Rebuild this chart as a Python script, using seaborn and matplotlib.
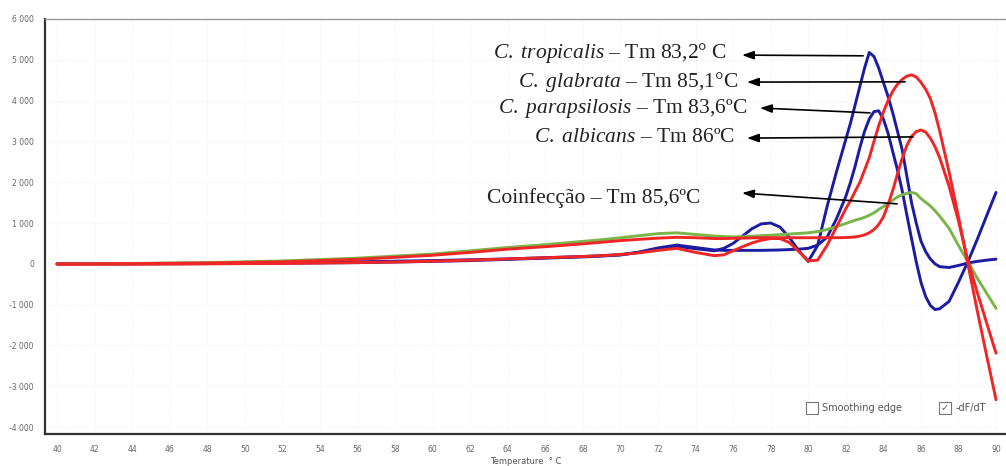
import matplotlib
matplotlib.use("Agg")
import pandas as pd
import matplotlib.pyplot as plt
import seaborn as sns
from matplotlib.patches import Rectangle
from matplotlib.ticker import FuncFormatter

# 1. Melt curve values (-dF/dT against temperature)
temperature = [40, 44, 48, 52, 56, 58, 60, 62, 64, 66, 68, 69, 70, 71, 72, 73, 74, 75,
               75.5, 76, 76.5, 77, 77.5, 78, 78.5, 79, 79.5, 80, 80.5, 81, 81.5, 82,
               82.25, 82.5, 82.75, 83, 83.25, 83.5, 83.75, 84, 84.25, 84.5, 84.75, 85,
               85.25, 85.5, 85.75, 86, 86.25, 86.5, 86.75, 87, 87.5, 88, 88.5, 89, 89.5, 90]

tropicalis = [0, 5, 15, 30, 50, 65, 80, 100, 120, 150, 180, 200, 220, 280, 370, 430, 370, 320,
              380, 500, 680, 860, 980, 1000, 900, 640, 320, 60, 450, 1400, 2250, 3050,
              3450, 3900, 4350, 4800, 5180, 5080, 4800, 4450, 4100, 3700, 3250, 2800,
              2150, 1500, 1000, 560, 300, 120, 0, -70, -90, -40, 20, 60, 90, 115]

parapsilosis = [0, 0, 5, 15, 30, 45, 60, 80, 110, 140, 170, 190, 220, 290, 390, 460, 400, 340,
                330, 330, 330, 330, 330, 335, 340, 350, 360, 380, 460, 650, 1100, 1650,
                2000, 2400, 2850, 3250, 3550, 3730, 3750, 3550, 3200, 2750, 2300, 1800,
                1200, 620, 50, -450, -800, -1020, -1120, -1100, -920, -450, 50, 600, 1180, 1750]

glabrata = [-10, -10, 0, 10, 30, 45, 65, 90, 120, 150, 180, 200, 230, 270, 330, 380, 280, 200,
            220, 320, 420, 510, 580, 620, 620, 520, 300, 70, 90, 450, 900, 1350,
            1550, 1780, 2000, 2300, 2600, 3000, 3380, 3720, 4000, 4230, 4400, 4520,
            4600, 4630, 4580, 4450, 4280, 4050, 3700, 3250, 2250, 1150, 0, -1150, -2250, -3330]

albicans = [0, 5, 20, 50, 110, 160, 210, 280, 360, 420, 490, 530, 570, 600, 630, 650, 640, 620,
            620, 625, 630, 635, 640, 640, 640, 640, 640, 640, 640, 640, 640, 645,
            650, 660, 680, 710, 760, 840, 960, 1150, 1450, 1800, 2200, 2580,
            2900, 3120, 3240, 3280, 3230, 3080, 2870, 2600, 1900, 1050, 80, -700, -1450, -2190]

coinfeccao = [0, 10, 30, 70, 140, 190, 240, 320, 400, 470, 550, 590, 640, 690, 740, 760, 720, 680,
              670, 660, 665, 675, 690, 700, 715, 730, 745, 760, 790, 840, 910, 990,
              1030, 1070, 1100, 1140, 1190, 1250, 1330, 1400, 1480, 1560, 1640, 1690,
              1730, 1750, 1720, 1600, 1510, 1420, 1300, 1170, 870, 450, 50, -350, -720, -1090]

x_ticks = list(range(40, 91, 2))
y_ticks = list(range(-4000, 6001, 1000))

samples = ["tropicalis", "parapsilosis", "coinfeccao", "glabrata", "albicans"]
colors = {"tropicalis": "#1c1ca3", "parapsilosis": "#1c1ca3",
          "glabrata": "#f02626", "albicans": "#f02626", "coinfeccao": "#7ab547"}

df = pd.concat([
    pd.DataFrame({"Temperature": temperature, "dFdT": vals, "sample": name})
    for name, vals in zip(["tropicalis", "parapsilosis", "glabrata", "albicans", "coinfeccao"],
                          [tropicalis, parapsilosis, glabrata, albicans, coinfeccao])
])

# annotation texts: (italic species, rest)
notes = [(r"$\mathit{C.\ tropicalis}$", " – Tm 83,2° C"),
         (r"$\mathit{C.\ glabrata}$", " – Tm 85,1°C"),
         (r"$\mathit{C.\ parapsilosis}$", " – Tm 83,6ºC"),
         (r"$\mathit{C.\ albicans}$", " – Tm 86ºC"),
         ("Coinfecção", " – Tm 85,6ºC")]

# 2. Styling
sns.set_style("white")
plt.rcParams["font.family"] = ["DejaVu Sans"]
plt.rcParams["mathtext.fontset"] = "custom"
plt.rcParams["mathtext.it"] = "Liberation Serif:italic"
plt.rcParams["mathtext.rm"] = "Liberation Serif"

fig = plt.figure(figsize=(10.06, 4.66), dpi=100)
ax = fig.add_axes([45 / 1006, 32 / 466, 961 / 1006, 415 / 466])

sns.lineplot(data=df, x="Temperature", y="dFdT", hue="sample", hue_order=samples,
             palette=colors, estimator=None, sort=False, linewidth=2.1, legend=False, ax=ax)

ax.set_xlim(39.36, 90.53)
ax.set_ylim(-4170, 6000)
ax.set_xticks(x_ticks)
ax.set_yticks(y_ticks)
ax.yaxis.set_major_formatter(FuncFormatter(lambda v, _: f"{int(v):,}".replace(",", " ")))
ax.tick_params(axis="both", labelsize=5.5, labelcolor="#666666", length=3, width=0.8,
               color="#444444", pad=5)
ax.grid(True, color="#eeeeee", linestyle=":", linewidth=0.6)
ax.set_ylabel("")
ax.set_xlabel("Temperature  ° C", fontsize=6, color="#555555", labelpad=2)

for side in ["left", "bottom"]:
    ax.spines[side].set_color("#333333")
    ax.spines[side].set_linewidth(1.6)
ax.spines["top"].set_color("#999999")
ax.spines["top"].set_linewidth(1.0)
ax.spines["right"].set_visible(False)

# 3. Annotations with arrows pointing to the labels
text_pos = [(0.7097, 0.906), (0.7211, 0.836), (0.7305, 0.7735), (0.718, 0.7036), (0.6816, 0.5566)]
heads = [(0.7253, 0.913), (0.7305, 0.848), (0.744, 0.7855), (0.7305, 0.713), (0.7253, 0.5807)]
tails = [(82.92, 5098), (85.16, 4460), (83.29, 3700), (85.58, 3110), (84.73, 1470)]

for (ital, rest), (tx, ty), head, tail in zip(notes, text_pos, heads, tails):
    ax.text(tx, ty, ital + rest, transform=ax.transAxes, ha="right", va="baseline",
            fontsize=15.5, family="Liberation Serif", color="#222222")
    ax.annotate("", xy=head, xycoords="axes fraction", xytext=tail, textcoords="data",
                arrowprops=dict(arrowstyle="-|>,head_length=0.7,head_width=0.25",
                                color="black", lw=1.2, shrinkA=0, shrinkB=0))

# 4. Checkbox captions at the bottom right
ax.add_patch(Rectangle((0.7918, 0.048), 0.0125, 0.029, transform=ax.transAxes,
                       fill=False, ec="#777777", lw=0.8))
ax.text(0.8085, 0.0625, "Smoothing edge", transform=ax.transAxes, fontsize=7,
        color="#555555", va="center", ha="left")
ax.add_patch(Rectangle((0.9302, 0.048), 0.0125, 0.029, transform=ax.transAxes,
                       fill=False, ec="#777777", lw=0.8))
ax.text(0.9365, 0.0625, "✓", transform=ax.transAxes, fontsize=7, color="#555555",
        va="center", ha="center")
ax.text(0.947, 0.0625, "-dF/dT", transform=ax.transAxes, fontsize=7,
        color="#555555", va="center", ha="left")

plt.savefig("out.png", dpi=100)
